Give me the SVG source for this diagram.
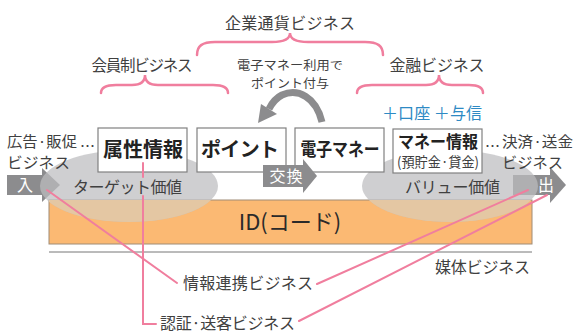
<svg xmlns="http://www.w3.org/2000/svg" width="576" height="334" viewBox="0 0 576 334">
<style>
text{font-family:"Noto Sans CJK JP","Noto Sans",sans-serif;fill:#404040}
.lbl{font-size:16px}
.side{font-size:15px}
.sm{font-size:12px}
.bold{font-weight:bold;fill:#222}
.wt{fill:#fff;font-size:16px}
.blue{fill:#2e8ac4;font-size:16px}
.box{fill:#fff;stroke:#808080;stroke-width:1.2}
.pink{fill:none;stroke:#f07e9e;stroke-width:2;stroke-linecap:round}
.brace{fill:none;stroke:#f07e9e;stroke-width:2.5;stroke-linecap:round}
.arr{fill:#8c8c8e}
</style>
<defs>
<clipPath id="orangeClip"><rect x="49" y="200" width="483" height="44"/></clipPath>
</defs>
<rect width="576" height="334" fill="#fff"/>

<!-- braces and top labels -->
<g id="kigyo">
<path class="brace" d="M197,55 C197,46 202,42 215,42 L272,42 C284,42 290,39 290,33 C290,39 296,42 308,42 L365,42 C378,42 383,46 383,55"/>
<text class="lbl" x="290" y="29" text-anchor="middle" textLength="130">企業通貨ビジネス</text>
</g>
<g id="kaiin">
<path class="brace" d="M101,93 C101,88 106,85 116,85 L132,85 C140,85 145,82 145,75 C145,82 150,85 158,85 L213,85 C223,85 228,88 228,93"/>
<text class="lbl" x="142" y="71" text-anchor="middle" textLength="101" style="font-size:15.5px">会員制ビジネス</text>
</g>
<g id="kinyu">
<path class="brace" d="M357,93 C357,88 362,85 372,85 L426,85 C434,85 439,82 439,75 C439,82 444,85 452,85 L469,85 C478,85 483,88 483,93"/>
<text class="lbl" x="437" y="71" text-anchor="middle" textLength="95">金融ビジネス</text>
</g>
<g id="note">
<text class="sm" x="290" y="70" text-anchor="middle" textLength="106" lengthAdjust="spacingAndGlyphs">電子マネー利用で</text>
<text class="sm" x="290" y="88" text-anchor="middle" textLength="78" lengthAdjust="spacingAndGlyphs">ポイント付与</text>
</g>
<g id="plus">
<text class="blue" x="382" y="119" textLength="100">＋口座 ＋与信</text>
</g>

<!-- curved arrow -->
<g id="curve">
<path d="M322,122 C316,97 298,88 282,95 C276,98 272,103 269,109" fill="none" stroke="#8c8c8e" stroke-width="7"/>
<polygon class="arr" points="258,123 261,104 277,114"/>
</g>

<!-- in/out arrows -->
<g id="in">
<rect class="arr" x="7" y="175" width="36" height="20"/>
<polygon class="arr" points="42,168 60,185 42,202"/>
</g>
<g id="out">
<rect class="arr" x="513" y="175" width="38" height="20"/>
<polygon class="arr" points="550,167 566,185 550,203"/>
</g>

<!-- orange ID band -->
<g id="id">
<rect x="49" y="200" width="483" height="44" fill="#fbb973" stroke="#a08c76" stroke-width="1"/>
</g>

<!-- ellipses -->
<g id="target">
<ellipse cx="129" cy="186" rx="89" ry="36" fill="#bdbdbf" fill-opacity="0.72"/>
<ellipse cx="129" cy="186" rx="89" ry="36" fill="#e4c7a3" clip-path="url(#orangeClip)"/>
</g>
<g id="value">
<ellipse cx="450" cy="186" rx="88" ry="36" fill="#bdbdbf" fill-opacity="0.72"/>
<ellipse cx="450" cy="186" rx="88" ry="36" fill="#e4c7a3" clip-path="url(#orangeClip)"/>
</g>

<text x="290" y="230" text-anchor="middle" style="font-size:22px;fill:#2a2a2a">ID(コード)</text>
<text class="wt" x="25" y="191" text-anchor="middle">入</text>
<text class="wt" x="546" y="191" text-anchor="middle">出</text>
<text class="lbl" x="73" y="193" textLength="109">ターゲット価値</text>
<text class="lbl" x="405" y="193" textLength="95">バリュー価値</text>

<!-- boxes -->
<g id="zokusei">
<rect class="box" x="98" y="128" width="89" height="44"/>
<text class="bold" x="143" y="157" text-anchor="middle" textLength="80" style="font-size:20px">属性情報</text>
</g>
<g id="point">
<rect class="box" x="197" y="128" width="89" height="44"/>
<text class="bold" x="240" y="157" text-anchor="middle" textLength="78" style="font-size:20px">ポイント</text>
</g>
<g id="emoney">
<rect class="box" x="295" y="128" width="89" height="44"/>
<text class="bold" x="340" y="156" text-anchor="middle" textLength="79" lengthAdjust="spacingAndGlyphs" style="font-size:18px">電子マネー</text>
</g>
<g id="moneyinfo">
<rect class="box" x="393" y="129" width="89" height="44"/>
<text class="bold" x="438" y="148" text-anchor="middle" textLength="80" lengthAdjust="spacingAndGlyphs" style="font-size:17px">マネー情報</text>
<text x="438" y="167" text-anchor="middle" textLength="82" lengthAdjust="spacingAndGlyphs" style="font-size:14px">(預貯金·貸金)</text>
</g>

<!-- exchange arrow -->
<g id="koukan">
<rect class="arr" x="263" y="165" width="41" height="22"/>
<polygon class="arr" points="303,159 317,176 303,193"/>
<text class="wt" x="286" y="182" text-anchor="middle" textLength="33">交換</text>
</g>

<!-- side labels -->
<g id="ad">
<text class="side" x="7" y="147" textLength="70" lengthAdjust="spacingAndGlyphs">広告·販促</text>
<text class="side" x="7" y="168" textLength="63" lengthAdjust="spacingAndGlyphs">ビジネス</text>
<text class="side" x="80" y="152" textLength="15">…</text>
</g>
<g id="settle">
<text class="side" x="502" y="147" textLength="71" lengthAdjust="spacingAndGlyphs">決済·送金</text>
<text class="side" x="502" y="168" textLength="61" lengthAdjust="spacingAndGlyphs">ビジネス</text>
<text class="side" x="485" y="152" textLength="14">…</text>
</g>

<!-- line under band -->
<line x1="49" y1="252" x2="532" y2="252" stroke="#777" stroke-width="1"/>
<g id="baitai"><text class="lbl" x="435" y="273" textLength="95">媒体ビジネス</text></g>
<g id="renkei"><text class="lbl" x="183" y="289" textLength="130">情報連携ビジネス</text></g>
<g id="ninsho"><text class="lbl" x="160" y="329" textLength="135">認証·送客ビジネス</text></g>

<!-- connectors -->
<g id="connectors">
<line class="pink" x1="47" y1="190" x2="177" y2="283"/>
<line class="pink" x1="143" y1="163" x2="143" y2="177"/>
<polyline class="pink" points="143,196 143,324 156,324"/>
<line class="pink" x1="528" y1="190" x2="317" y2="284"/>
<line class="pink" x1="547" y1="195" x2="299" y2="321"/>
</g>
</svg>
